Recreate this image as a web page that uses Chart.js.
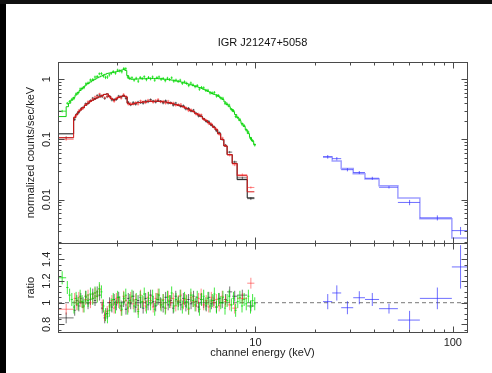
<!DOCTYPE html>
<html>
<head>
<meta charset="utf-8">
<script src="https://cdn.jsdelivr.net/npm/chart.js@4.4.0/dist/chart.umd.min.js"></script>
<style>
body { margin: 0; background: #fff; width: 492px; height: 373px; overflow: hidden; position: relative; }
#edgeLeft { position: absolute; left: 0; top: 0; width: 6px; height: 373px; background: #000; }
#edgeTop { position: absolute; left: 0; top: 0; width: 492px; height: 4px; background: #111; }
#spec { position: absolute; left: 6px; top: 4px; }
</style>
</head>
<body>
<div id="edgeLeft"></div>
<div id="edgeTop"></div>
<canvas id="spec" width="486" height="369"></canvas>
<script>
// tick labels
var energyTicks = [10, 100];
var countTicks = [0.01, 0.1, 1];
var ratioTicks = [0.8, 1, 1.2, 1.4];

// XIS BI (green): bin edges in keV, model counts, data/model ratio
var greenEdges = [1.00, 1.10, 1.13, 1.16, 1.19, 1.22, 1.25, 1.28, 1.31, 1.34,
    1.37, 1.40, 1.44, 1.48, 1.52, 1.56, 1.60, 1.64, 1.68, 1.72,
    1.76, 1.80, 1.84, 1.88, 1.93, 1.98, 2.03, 2.08, 2.13, 2.18,
    2.23, 2.28, 2.34, 2.40, 2.46, 2.52, 2.58, 2.64, 2.70, 2.77,
    2.84, 2.91, 2.98, 3.05, 3.13, 3.21, 3.29, 3.37, 3.45, 3.54,
    3.63, 3.72, 3.81, 3.91, 4.01, 4.11, 4.21, 4.32, 4.43, 4.54,
    4.65, 4.77, 4.89, 5.01, 5.14, 5.27, 5.40, 5.54, 5.68, 5.82,
    5.97, 6.12, 6.27, 6.43, 6.59, 6.76, 6.93, 7.10, 7.28, 7.46,
    7.65, 7.84, 8.04, 8.24, 8.45, 8.66, 8.88, 9.10, 9.33, 9.56,
    9.80, 10.05];
var greenModel = [0.24, 0.35, 0.40, 0.45, 0.50, 0.55, 0.60, 0.65, 0.70, 0.75,
    0.80, 0.85, 0.90, 0.95, 1.00, 1.05, 1.09, 1.13, 1.17, 1.21,
    1.25, 1.27, 1.28, 1.30, 1.32, 1.35, 1.38, 1.42, 1.45, 1.40,
    1.15, 1.02, 1.00, 1.00, 1.01, 1.01, 1.02, 1.02, 1.02, 1.03,
    1.03, 1.03, 1.03, 1.03, 1.03, 1.02, 1.02, 1.01, 1.00, 0.99,
    0.98, 0.97, 0.96, 0.94, 0.93, 0.91, 0.89, 0.87, 0.85, 0.83,
    0.81, 0.79, 0.77, 0.75, 0.73, 0.71, 0.68, 0.66, 0.63, 0.61,
    0.58, 0.56, 0.55, 0.52, 0.49, 0.46, 0.42, 0.38, 0.35, 0.32,
    0.29, 0.26, 0.23, 0.205, 0.185, 0.165, 0.145, 0.125, 0.108, 0.094,
    0.082];
var greenRatio = [1.23, 1.14, 1.07, 1.03, 0.96, 1.04, 0.99, 1.06, 1.01, 0.97,
    1.05, 1.02, 1.08, 1.04, 1.09, 1.06, 1.13, 1.10, 0.97, 0.89,
    0.87, 0.93, 0.98, 1.03, 0.96, 1.05, 1.00, 0.94, 1.04, 1.07,
    0.95, 1.02, 1.06, 0.97, 1.03, 0.92, 1.05, 1.01, 1.08, 0.96,
    1.04, 0.99, 1.06, 0.94, 1.03, 1.07, 0.98, 1.02, 0.95, 1.05,
    1.01, 1.09, 0.97, 1.03, 0.99, 1.06, 0.96, 1.04, 1.01, 0.95,
    1.07, 1.02, 0.98, 1.05, 0.94, 1.03, 1.06, 0.99, 1.04, 0.97,
    1.02, 1.08, 0.96, 1.03, 1.00, 1.05, 0.95, 1.02, 1.06, 0.98,
    1.04, 0.93, 1.01, 1.05, 0.97, 1.03, 0.99, 1.06, 0.96, 1.02,
    0.99];
var greenErr = 0.06;

// XIS FI (red and black) share the same binning
var fiEdges = [1.00, 1.20, 1.23, 1.26, 1.29, 1.32, 1.36, 1.40, 1.44, 1.48,
    1.52, 1.56, 1.60, 1.65, 1.70, 1.75, 1.80, 1.85, 1.90, 1.95,
    2.00, 2.06, 2.12, 2.18, 2.24, 2.30, 2.37, 2.44, 2.51, 2.58,
    2.66, 2.74, 2.82, 2.90, 2.99, 3.08, 3.17, 3.26, 3.36, 3.46,
    3.56, 3.67, 3.78, 3.89, 4.01, 4.13, 4.25, 4.38, 4.51, 4.65,
    4.79, 4.93, 5.08, 5.23, 5.39, 5.55, 5.72, 5.89, 6.07, 6.25,
    6.44, 6.67, 6.92, 7.19, 7.63, 8.08, 9.09, 9.88];
var blackModel = [0.124, 0.23, 0.26, 0.29, 0.31, 0.34, 0.37, 0.40, 0.43, 0.45,
    0.47, 0.49, 0.51, 0.54, 0.56, 0.57, 0.52, 0.47, 0.45, 0.47,
    0.50, 0.52, 0.53, 0.51, 0.40, 0.38, 0.39, 0.40, 0.41, 0.41,
    0.42, 0.42, 0.43, 0.43, 0.43, 0.43, 0.43, 0.43, 0.42, 0.42,
    0.41, 0.40, 0.39, 0.38, 0.37, 0.36, 0.35, 0.33, 0.32, 0.30,
    0.29, 0.27, 0.255, 0.24, 0.22, 0.205, 0.19, 0.175, 0.16, 0.145,
    0.125, 0.10, 0.078, 0.056, 0.040, 0.0215, 0.0107];
var redModel = [0.107, 0.23, 0.26, 0.29, 0.31, 0.34, 0.37, 0.40, 0.43, 0.45,
    0.47, 0.49, 0.51, 0.54, 0.56, 0.57, 0.52, 0.47, 0.45, 0.47,
    0.50, 0.52, 0.53, 0.51, 0.40, 0.38, 0.39, 0.40, 0.41, 0.41,
    0.42, 0.42, 0.43, 0.43, 0.43, 0.43, 0.43, 0.43, 0.42, 0.42,
    0.41, 0.40, 0.39, 0.38, 0.37, 0.36, 0.35, 0.33, 0.32, 0.30,
    0.29, 0.27, 0.255, 0.24, 0.22, 0.205, 0.19, 0.175, 0.16, 0.145,
    0.125, 0.10, 0.078, 0.056, 0.040, 0.025, 0.0135];
var blackRatio = [0.86, 0.93, 1.02, 0.97, 1.04, 1.00, 1.06, 0.99, 1.03, 1.08,
    1.02, 1.10, 1.07, 0.95, 0.86, 0.90, 1.00, 0.96, 1.03, 0.98,
    1.05, 0.97, 1.01, 0.94, 1.04, 0.99, 1.06, 0.96, 1.02, 1.00,
    0.95, 1.04, 0.98, 1.07, 1.01, 0.97, 1.03, 1.00, 0.96, 1.05,
    0.98, 1.02, 0.95, 1.06, 1.01, 0.98, 1.04, 0.97, 1.03, 0.99,
    1.06, 1.01, 0.96, 1.03, 1.00, 0.97, 1.05, 0.99, 1.02, 0.96,
    1.04, 1.00, 1.03, 1.10, 1.06, 1.07, 0.97];
var redRatio = [0.94, 1.04, 0.98, 1.05, 1.01, 0.96, 1.03, 1.07, 1.00, 1.04,
    1.09, 1.06, 1.12, 0.98, 0.88, 0.92, 0.97, 1.02, 0.95, 1.04,
    1.00, 0.93, 1.06, 1.02, 0.96, 1.05, 0.99, 1.03, 0.94, 1.07,
    1.01, 0.97, 1.05, 1.02, 0.96, 1.04, 1.08, 0.98, 1.03, 0.95,
    1.06, 1.00, 1.04, 0.97, 1.02, 1.07, 0.99, 1.03, 0.94, 1.05,
    1.01, 0.97, 1.04, 1.08, 0.98, 1.02, 0.96, 1.05, 1.00, 1.03,
    0.97, 1.06, 1.01, 0.98, 0.95, 1.04, 1.18];
var fiErr = 0.05;

// BAT (blue)
var batEdges = [22.0, 24.5, 27.2, 31.3, 35.9, 42.3, 52.7, 68.1, 98.9, 120];
var batModel = [0.051, 0.044, 0.033, 0.027, 0.022, 0.017, 0.0107, 0.0048, 0.0023];
var batRatio = [1.01, 1.09, 0.954, 1.046, 1.03, 0.945, 0.84, 1.04, 1.33];
var batErr = [0.07, 0.07, 0.06, 0.06, 0.06, 0.045, 0.085, 0.1, 0.2];

// stepped model histogram: one point per lower edge plus the last upper edge
function stepLine(edges, model) {
    var pts = [];
    for (var i = 0; i < model.length; i++) pts.push({x: edges[i], y: model[i]});
    pts.push({x: edges[model.length], y: model[model.length - 1]});
    return pts;
}

// data crosses (bin width + error bar), separated by gaps
function crosses(edges, model, ratio, err, asRatio) {
    var pts = [];
    for (var i = 0; i < ratio.length; i++) {
        var lo = edges[i], hi = edges[i + 1], c = (lo + hi) / 2;
        var e = Array.isArray(err) ? err[i] : err;
        var y = asRatio ? ratio[i] : model[i] * ratio[i];
        var dy = asRatio ? e : model[i] * e;
        pts.push({x: lo, y: y}, {x: hi, y: y}, {x: hi, y: null});
        pts.push({x: c, y: y - dy}, {x: c, y: y + dy}, {x: c, y: null});
    }
    return pts;
}

function ds(data, axis, color, width, extra) {
    var d = {
        data: data, yAxisID: axis, borderColor: color, borderWidth: width,
        pointRadius: 0, fill: false, spanGaps: false, tension: 0
    };
    for (var k in extra) d[k] = extra[k];
    return d;
}

var frame = {
    id: 'frame',
    afterDatasetsDraw: function (chart) {
        var c = chart.ctx, a = chart.chartArea, sx = chart.scales.x;
        var xMinor = [], topMinor = [], ratioMinor = [];
        [1, 10, 100].forEach(function (d) {
            for (var k = 2; k <= 9; k++) xMinor.push(k * d);
        });
        [0.001, 0.01, 0.1, 1].forEach(function (d) {
            for (var k = 2; k <= 9; k++) topMinor.push(k * d);
        });
        for (var r = 0.75; r < 1.56; r += 0.05) ratioMinor.push(r);

        c.save();
        c.strokeStyle = '#4a4a4a';
        c.lineWidth = 1;
        function panel(ys, yMaj, yMin) {
            var t = Math.round(ys.top) + 0.5, b = Math.round(ys.bottom) + 0.5;
            var l = Math.round(a.left) + 0.5, rr = Math.round(a.right) + 0.5;
            c.strokeRect(l, t, rr - l, b - t);
            c.beginPath();
            function xt(v, len) {
                if (v <= sx.min || v >= sx.max) return;
                var p = Math.round(sx.getPixelForValue(v)) + 0.5;
                c.moveTo(p, b); c.lineTo(p, b - len);
                c.moveTo(p, t); c.lineTo(p, t + len);
            }
            function yt(v, len) {
                if (v <= ys.min || v >= ys.max) return;
                var p = Math.round(ys.getPixelForValue(v)) + 0.5;
                c.moveTo(l, p); c.lineTo(l + len, p);
                c.moveTo(rr, p); c.lineTo(rr - len, p);
            }
            energyTicks.forEach(function (v) { xt(v, 6); });
            xMinor.forEach(function (v) { xt(v, 3); });
            yMaj.forEach(function (v) { yt(v, 6); });
            yMin.forEach(function (v) { yt(v, 3); });
            c.stroke();
        }
        panel(chart.scales.yTop, countTicks, topMinor);
        panel(chart.scales.yRatio, ratioTicks, ratioMinor);
        c.restore();
    }
};

Chart.defaults.font.family = "'Liberation Sans', Arial, sans-serif";
Chart.defaults.font.size = 11;
Chart.defaults.color = '#222';

var green = 'rgba(0, 225, 0, 0.75)';
var red = 'rgba(255, 40, 40, 0.55)';
var black = 'rgba(0, 0, 0, 0.55)';
var blue = 'rgba(50, 50, 255, 0.7)';

var ctx = document.getElementById('spec').getContext('2d');

var myChart = new Chart(ctx, {
    type: 'line',
    data: {
        datasets: [
            ds(crosses(greenEdges, greenModel, greenRatio, greenErr, true), 'yRatio', green, 1),
            ds(crosses(fiEdges, redModel, redRatio, fiErr, true), 'yRatio', red, 1),
            ds(crosses(fiEdges, blackModel, blackRatio, fiErr, true), 'yRatio', black, 1),
            ds(crosses(batEdges, batModel, batRatio, batErr, true), 'yRatio', blue, 1),
            ds(stepLine(greenEdges, greenModel), 'yTop', '#10d010', 1, {stepped: 'before'}),
            ds(crosses(greenEdges, greenModel, greenRatio, greenErr, false), 'yTop', green, 1),
            ds(stepLine(fiEdges, redModel), 'yTop', '#d81818', 1, {stepped: 'before'}),
            ds(crosses(fiEdges, redModel, redRatio, fiErr, false), 'yTop', red, 1),
            ds(stepLine(fiEdges, blackModel), 'yTop', '#111', 1, {stepped: 'before'}),
            ds(crosses(fiEdges, blackModel, blackRatio, fiErr, false), 'yTop', black, 1),
            ds(crosses(batEdges, batModel, batRatio, batErr, false), 'yTop', blue, 1),
            ds(stepLine(batEdges, batModel), 'yTop', 'rgba(80, 80, 255, 0.55)', 1.5, {stepped: 'before'}),
            ds([{x: 1.0, y: 1}, {x: 118, y: 1}], 'yRatio', '#777', 1, {borderDash: [4, 3]})
        ]
    },
    options: {
        responsive: false,
        animation: false,
        events: [],
        layout: {padding: {left: 0, right: 25, top: 0, bottom: 0}},
        plugins: {
            legend: {display: false},
            tooltip: {enabled: false},
            title: {
                display: true,
                fullSize: false,
                text: 'IGR J21247+5058',
                color: '#111',
                font: {size: 11, weight: 'normal'},
                padding: {top: 32, bottom: 13}
            }
        },
        scales: {
            x: {
                type: 'logarithmic',
                position: 'bottom',
                min: 1.0,
                max: 118,
                grid: {display: false, drawTicks: false},
                border: {display: false},
                afterBuildTicks: function (s) {
                    s.ticks = energyTicks.map(function (v) { return {value: v}; });
                },
                afterFit: function (s) { s.height = 41; },
                ticks: {
                    autoSkip: false, maxRotation: 0, padding: 4,
                    callback: function (v) { return String(v); }
                },
                title: {display: true, text: 'channel energy (keV)', padding: {top: 0, bottom: 13}}
            },
            yTop: {
                type: 'logarithmic',
                position: 'left',
                stack: 'panels',
                stackWeight: 181,
                weight: 2,
                min: 0.0019,
                max: 1.92,
                grid: {display: false, drawTicks: false},
                border: {display: false},
                afterBuildTicks: function (s) {
                    s.ticks = countTicks.map(function (v) { return {value: v}; });
                },
                afterFit: function (s) { s.width = 52; },
                ticks: {
                    autoSkip: false, minRotation: 90, maxRotation: 90,
                    crossAlign: 'center', padding: 0,
                    callback: function (v) { return String(v); }
                },
                title: {display: true, text: 'normalized counts/sec/keV', padding: {top: 18, bottom: 0}}
            },
            yRatio: {
                type: 'linear',
                position: 'left',
                stack: 'panels',
                stackWeight: 89,
                weight: 1,
                min: 0.73,
                max: 1.55,
                grid: {display: false, drawTicks: false},
                border: {display: false},
                afterBuildTicks: function (s) {
                    s.ticks = ratioTicks.map(function (v) { return {value: v}; });
                },
                afterFit: function (s) { s.width = 52; },
                ticks: {
                    autoSkip: false, minRotation: 90, maxRotation: 90,
                    crossAlign: 'center', padding: 3,
                    callback: function (v) { return String(v); }
                },
                title: {display: true, text: 'ratio', padding: {top: 18, bottom: 0}}
            }
        }
    },
    plugins: [frame]
});
</script>
</body>
</html>
